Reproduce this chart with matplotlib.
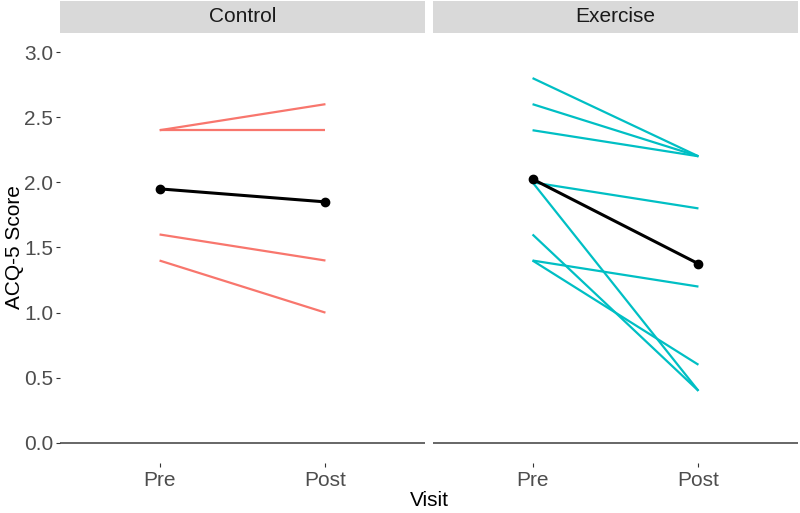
import numpy as np
import matplotlib
matplotlib.use("Agg")
import matplotlib.pyplot as plt

plt.rcParams['font.family'] = ['Liberation Sans', 'DejaVu Sans']

visits = ["Pre", "Post"]
groups = ["Control", "Exercise"]

# one row per participant: (pre, post)
control_pre = [2.4, 2.4, 1.6, 1.4]
control_post = [2.6, 2.4, 1.4, 1.0]
exercise_pre = [2.8, 2.6, 2.4, 2.0, 2.0, 1.6, 1.4, 1.4]
exercise_post = [2.2, 2.2, 2.2, 1.8, 0.4, 0.4, 1.2, 0.6]

y_ticks = [0.0, 0.5, 1.0, 1.5, 2.0, 2.5, 3.0]
colors = {"Control": "#F8766D", "Exercise": "#00BFC4"}

data = {
    "Control": (control_pre, control_post),
    "Exercise": (exercise_pre, exercise_post),
}

W, H = 800, 513
fig = plt.figure(figsize=(W / 100, H / 100), dpi=100)

panels = [(60, 425), (433, 798)]
top_px, bottom_px = 32.5, 462.5
strip_top = 1

for k, (g, (x0, x1)) in enumerate(zip(groups, panels)):
    ax = fig.add_axes([x0 / W, (H - bottom_px) / H, (x1 - x0) / W, (bottom_px - top_px) / H])
    pre, post = data[g]
    xs = np.arange(1, len(visits) + 1)
    for a, b in zip(pre, post):
        ax.plot(xs, [a, b], color=colors[g], lw=1.6, solid_capstyle='butt', zorder=2)
    ax.plot(xs, [np.mean(pre), np.mean(post)], color='black', lw=2.2,
            marker='o', ms=6, zorder=3)
    ax.axhline(0, color='#4D4D4D', lw=1.2, zorder=1)

    ax.set_xlim(0.4, 2.6)
    ax.set_ylim(-0.15, 3.15)
    ax.set_xticks(xs)
    ax.set_xticklabels(visits)
    ax.set_yticks(y_ticks)
    if k == 0:
        ax.set_yticklabels([f"{v:.1f}" for v in y_ticks])
        ax.tick_params(axis='y', length=3, width=0.8, color='#333333',
                       labelsize=15, labelcolor='#4D4D4D', pad=2)
    else:
        ax.tick_params(axis='y', length=0, labelleft=False)
    ax.tick_params(axis='x', length=3, width=0.8, color='#333333',
                   labelsize=15, labelcolor='#4D4D4D', pad=3)
    for s in ax.spines.values():
        s.set_visible(False)

    # facet strip
    sax = fig.add_axes([x0 / W, (H - top_px) / H, (x1 - x0) / W, (top_px - strip_top) / H])
    sax.set_facecolor('#D9D9D9')
    sax.set_xticks([])
    sax.set_yticks([])
    for s in sax.spines.values():
        s.set_visible(False)
    sax.text(0.5, 0.5, g, ha='center', va='center', fontsize=15,
             color='#1A1A1A', transform=sax.transAxes)

fig.text((60 + 798) / 2 / W, 1 - 500 / H, "Visit", ha='center', va='center', fontsize=15)
fig.text(14 / W, 1 - 247 / H, "ACQ-5 Score", ha='center', va='center',
         rotation=90, fontsize=15)

fig.savefig("out.png", dpi=100)
